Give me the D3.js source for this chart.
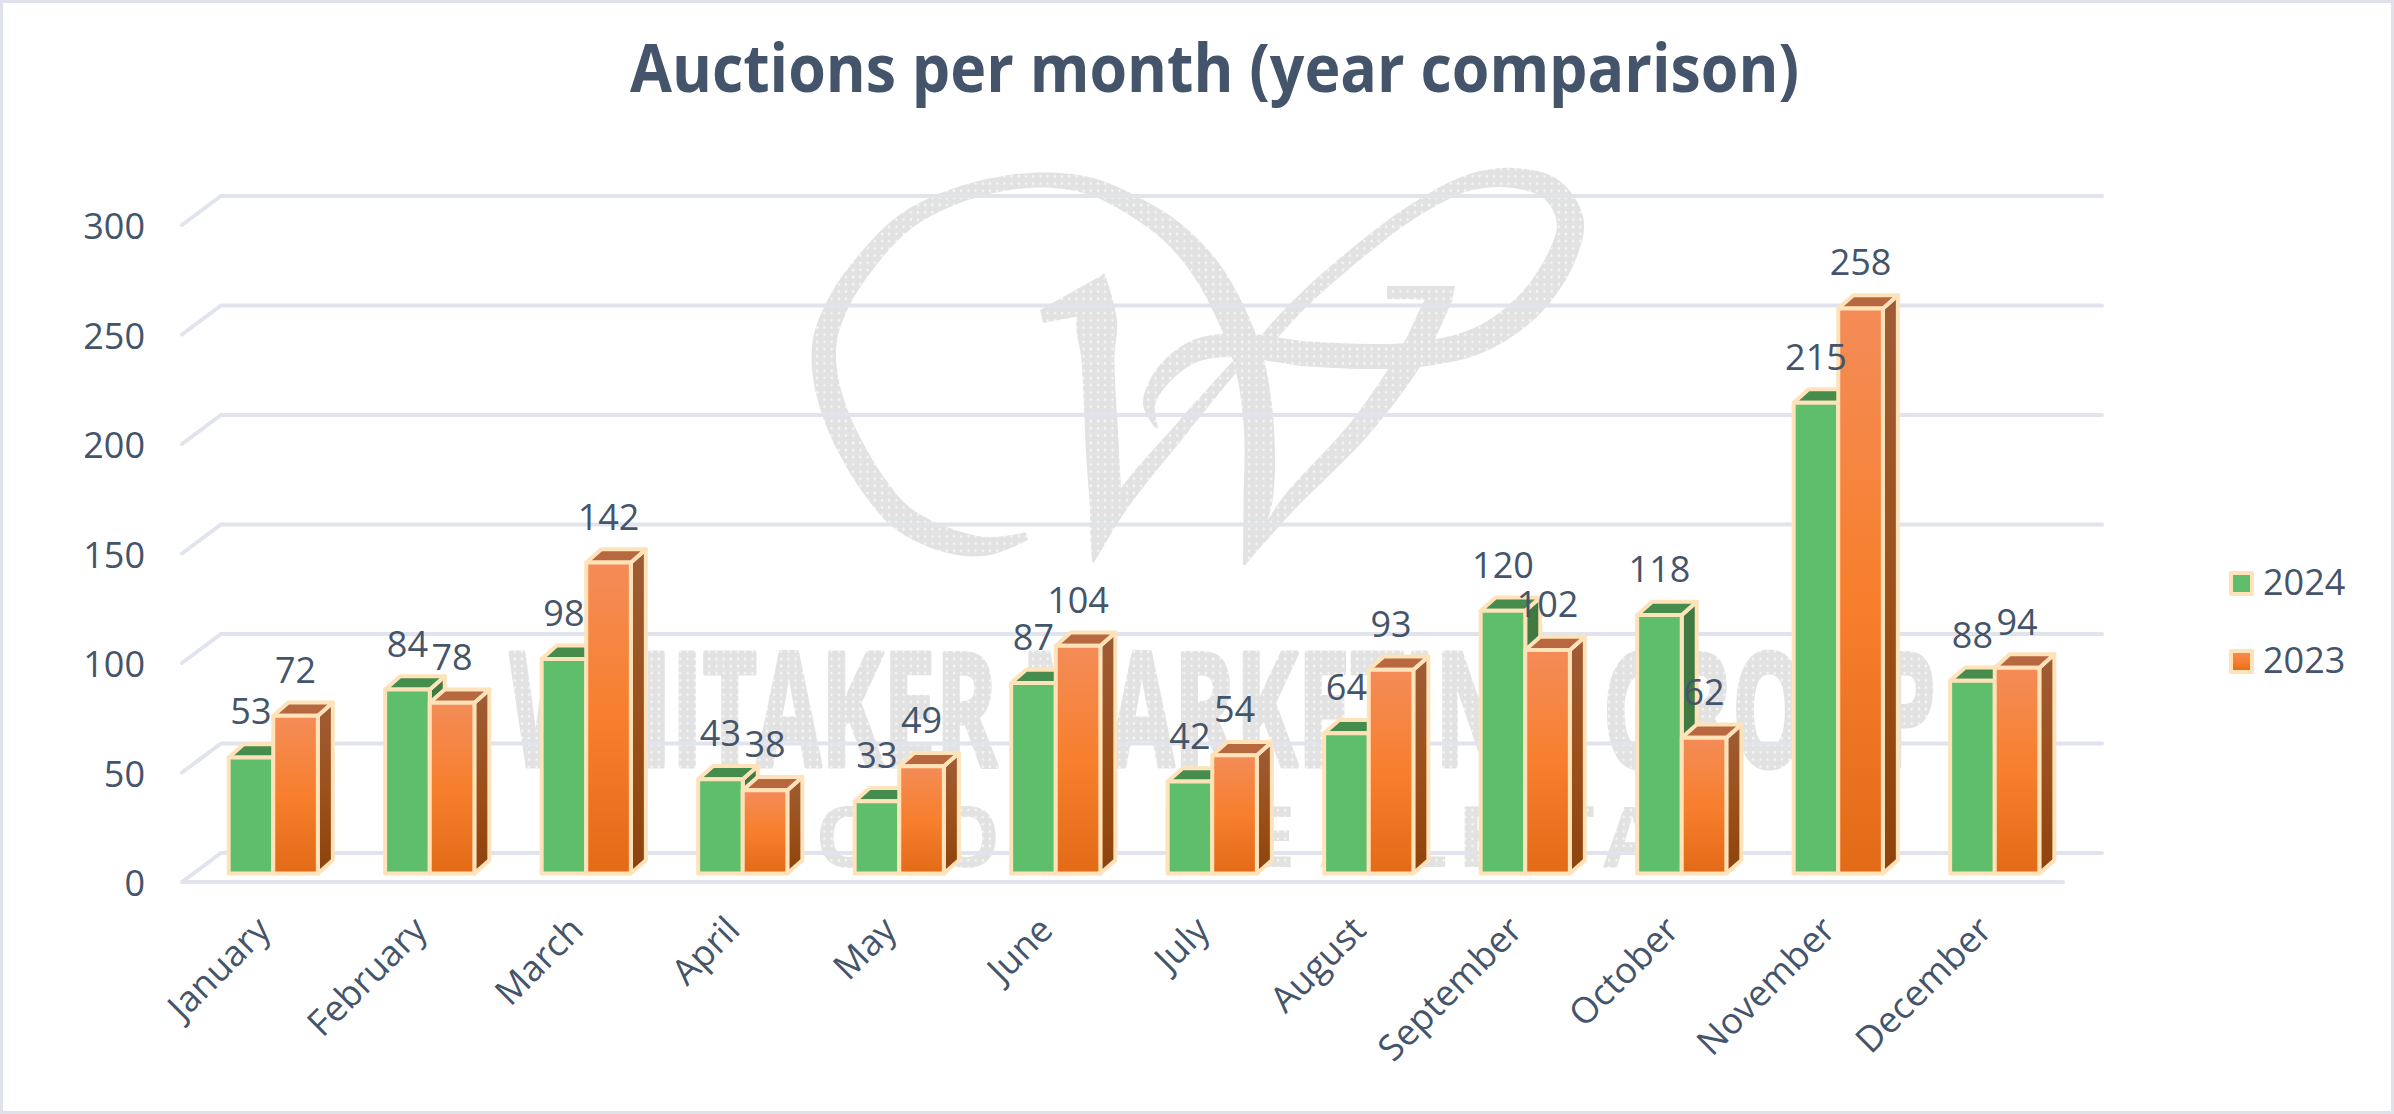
<!DOCTYPE html>
<html>
<head>
<meta charset="utf-8">
<script src="https://cdn.jsdelivr.net/npm/d3@7"></script>
<style>
  html, body { margin: 0; padding: 0; background: #fff; }
  svg { display: block; }
  text { font-family: "Open Sans", sans-serif; fill: #44546a; }
</style>
</head>
<body>
<div id="chart"></div>
<script>
// Monthly auction counts for the two years being compared
const months = ["January", "February", "March", "April", "May", "June", "July", "August", "September", "October", "November", "December"];
const years = ["2024", "2023"];
const values2024 = [53, 84, 98, 43, 33, 87, 42, 64, 120, 118, 215, 88];
const values2023 = [72, 78, 142, 38, 49, 104, 54, 93, 102, 62, 258, 94];
const yTicks = [0, 50, 100, 150, 200, 250, 300];
const titleText = "Auctions per month (year comparison)";

const W = 2394, H = 1114;
const depthX = 15, depthY = 13.3;           // extrusion of each bar
const floorFront = 8.5, floorBack = -20.5;  // floor edges relative to the bar baseline
const wallLeft = 182, wallRight = 2063, wallShift = 39;

const svg = d3.select("#chart").append("svg").attr("width", W).attr("height", H);
const defs = svg.append("defs");

const x = d3.scaleBand().domain(months).range([195, 2073]).paddingInner(0.43).paddingOuter(0.215);
const xSeries = d3.scaleBand().domain(years).range([0, x.bandwidth()]);
const y = d3.scaleLinear().domain([0, 300]).range([873.5, 216.5]);

function gradient(id, stops) {
  const g = defs.append("linearGradient").attr("id", id)
    .attr("x1", 0).attr("y1", 0).attr("x2", 0).attr("y2", 1);
  stops.forEach(([o, c]) => g.append("stop").attr("offset", o).attr("stop-color", c));
}
gradient("orangeFront", [[0, "#f48c58"], [0.5, "#f77f2d"], [1, "#e36a17"]]);
gradient("orangeSide", [[0, "#a05c36"], [0.55, "#9b5019"], [1, "#8e420c"]]);

// Dotted fill of the background emblem
const dots = defs.append("pattern").attr("id", "dotted").attr("patternUnits", "userSpaceOnUse")
  .attr("width", 7.2).attr("height", 7.2);
dots.append("rect").attr("width", 7.2).attr("height", 7.2).attr("fill", "#e2e2e2");
dots.append("circle").attr("cx", 3.6).attr("cy", 3.6).attr("r", 1.3).attr("fill", "#f7f7f7");

// Outer frame
svg.append("rect").attr("x", 1.5).attr("y", 1.5).attr("width", W - 3).attr("height", H - 3)
  .attr("fill", "#fff").attr("stroke", "#dfe2ea").attr("stroke-width", 3);

// Background emblem: calligraphic monogram drawn as variable-width ribbons
const smooth = d3.line().curve(d3.curveCatmullRom.alpha(0.5));
function ribbon(pts) {
  const left = [], right = [];
  pts.forEach((p, i) => {
    const a = pts[Math.max(0, i - 1)], b = pts[Math.min(pts.length - 1, i + 1)];
    const dx = b[0] - a[0], dy = b[1] - a[1], len = Math.hypot(dx, dy) || 1;
    const nx = -dy / len * p[2] / 2, ny = dx / len * p[2] / 2;
    left.push([p[0] + nx, p[1] + ny]);
    right.push([p[0] - nx, p[1] - ny]);
  });
  return smooth(left) + "L" + smooth(right.reverse()).slice(1) + "Z";
}
const emblem = svg.append("g").attr("fill", "url(#dotted)");
const strokes = [
  // large left bowl running into the second stem
  [[1027,536,8],[990,546,18],[953,542,24],[905,520,26],[877,490,26],[842,430,26],[826,380,25],[825,340,24],[840,300,22],[866,262,20],[905,222,18],[953,197,16],[1000,184,15],[1045,180,15],[1090,186,17],[1132,205,20],[1172,232,24],[1205,268,28],[1232,316,30],[1250,366,30],[1259,430,30],[1258,500,29],[1252,535,18],[1244,565,2]],
  // first stem
  [[1104,274,2],[1097,318,40],[1098,360,33],[1103,460,33],[1105,510,30],[1100,533,20],[1093,562,2]],
  // thin diagonal between the stems
  [[1093,562,2],[1120,505,16],[1183,427,14],[1236,365,10]],
  // long diagonal up to the top serif
  [[1244,565,2],[1285,508,16],[1361,427,22],[1412,355,26],[1433,312,26],[1442,294,24]],
  // sweeping loop
  [[1157,428,3],[1149,405,12],[1162,377,18],[1193,352,22],[1234,345,24],[1310,354,25],[1412,355,25],[1479,340,26],[1530,304,28],[1563,254,28],[1570,220,27],[1552,190,24],[1514,178,20],[1468,183,16],[1412,212,14],[1361,250,14],[1310,294,14],[1269,337,14],[1254,358,12]]
];
strokes.forEach(s => emblem.append("path").attr("d", ribbon(s)));
emblem.append("path").attr("d", d3.line()([[1104,274],[1040,310],[1043,323],[1080,316],[1104,320]]));
emblem.append("path").attr("d", d3.line()([[1387,286],[1455,286],[1452,300],[1387,299]]));

// Company name behind the plot
const wordmark = svg.append("g").style("font-family", '"Liberation Sans Narrow", "Liberation Sans", sans-serif').style("font-weight", 700);
wordmark.append("text").attr("x", 510).attr("y", 766)
  .attr("textLength", 1426).attr("lengthAdjust", "spacingAndGlyphs")
  .style("font-size", "158px").style("fill", "url(#dotted)")
  .style("stroke", "url(#dotted)").style("stroke-width", 5).style("stroke-linejoin", "round")
  .text("WHITAKER MARKETING GROUP");

const subLetters = ["O", "O", "R", "E", "A", "L", "E", "S", "T", "A", "T", "E"];
const subPositions = [815, 933, 1158, 1248, 1320, 1400, 1457, 1500, 1546, 1603, 1664, 1690];
svg.append("g").style("font-family", '"Liberation Sans", sans-serif').style("font-weight", 700)
  .selectAll("text").data(subLetters).join("text")
  .attr("x", (d, i) => subPositions[i]).attr("y", 867)
  .style("font-size", "85px").style("fill", "url(#dotted)")
  .text(d => d);

// Chart walls and floor
const grid = svg.append("g").attr("fill", "none").attr("stroke", "#e1e4ec").attr("stroke-width", 4).attr("stroke-linecap", "round");
grid.selectAll("path.wall").data(yTicks).join("path").attr("class", "wall")
  .attr("d", v => d3.line()([
    [wallLeft, y(v) + floorFront],
    [wallLeft + wallShift, y(v) + floorBack],
    [wallRight + wallShift, y(v) + floorBack]
  ]));
grid.append("line").attr("x1", wallLeft).attr("x2", wallRight)
  .attr("y1", y(0) + floorFront).attr("y2", y(0) + floorFront);

// Vertical axis
const yAxis = svg.append("g").attr("transform", `translate(157,${floorFront})`)
  .call(d3.axisLeft(y).tickValues(yTicks).tickSize(0).tickPadding(12));
yAxis.select(".domain").remove();
yAxis.selectAll("text").attr("dy", "0.38em").style("font-size", "36px").style("font-family", '"Open Sans", sans-serif').style("fill", "#44546a");

// Month axis with slanted labels
const xAxis = svg.append("g").attr("transform", "translate(-9,924)")
  .call(d3.axisBottom(x).tickSize(0).tickPadding(0));
xAxis.select(".domain").remove();
xAxis.selectAll("text")
  .attr("y", 0).attr("dy", "0.32em")
  .attr("text-anchor", "end")
  .attr("transform", "rotate(-45)")
  .style("font-size", "36px").style("font-family", '"Open Sans", sans-serif').style("fill", "#44546a");

// Extruded bars: each month draws 2024 first so that 2023 overlaps its side face
const palette = {
  "2024": { front: "#5fbe6b", top: "#468c4d", side: "#3f7a42" },
  "2023": { front: "url(#orangeFront)", top: "#b8683e", side: "url(#orangeSide)" }
};
const rows = months.map((m, i) => ({ month: m, bars: [
  { year: "2024", value: values2024[i] },
  { year: "2023", value: values2023[i] }
]}));
const edge = { stroke: "#fee3ba", "stroke-width": 4, "stroke-linejoin": "round" };
const poly = d3.line();

const groups = svg.append("g").selectAll("g").data(rows).join("g")
  .attr("transform", d => `translate(${x(d.month)},0)`);
groups.each(function (row) {
  const g = d3.select(this);
  row.bars.forEach(b => {
    const l = xSeries(b.year), r = l + xSeries.bandwidth(), t = y(b.value), base = y(0), c = palette[b.year];
    const side = g.append("path").attr("fill", c.side)
      .attr("d", poly([[r, t], [r + depthX, t - depthY], [r + depthX, base - depthY], [r, base]]) + "Z");
    const top = g.append("path").attr("fill", c.top)
      .attr("d", poly([[l, t], [l + depthX, t - depthY], [r + depthX, t - depthY], [r, t]]) + "Z");
    const front = g.append("rect").attr("fill", c.front)
      .attr("x", l).attr("y", t).attr("width", r - l).attr("height", base - t);
    [side, top, front].forEach(s => Object.entries(edge).forEach(([k, v]) => s.attr(k, v)));
  });
});

// Value labels sit above everything else
groups.each(function (row) {
  d3.select(this).selectAll("text").data(row.bars).join("text")
    .attr("x", d => xSeries(d.year) + xSeries.bandwidth() / 2)
    .attr("y", d => y(d.value) - 33)
    .attr("text-anchor", "middle")
    .style("font-size", "36px")
    .text(d => d.value);
});
groups.raise();

// Legend
const legendY = d3.scalePoint().domain(years).range([595, 673]);
const legend = svg.append("g").selectAll("g").data(years).join("g")
  .attr("transform", d => `translate(2231,${legendY(d)})`);
legend.append("rect").attr("x", 0).attr("y", -22).attr("width", 21).attr("height", 21)
  .attr("fill", d => palette[d].front).attr("stroke", edge.stroke).attr("stroke-width", edge["stroke-width"]).attr("stroke-linejoin", "round");
legend.append("text").attr("x", 32).attr("y", 0).style("font-size", "36px").text(d => d);

// Title
svg.append("text").attr("x", 630).attr("y", 92)
  .attr("textLength", 1169).attr("lengthAdjust", "spacingAndGlyphs")
  .style("font-size", "66px").style("font-weight", 700).text(titleText);
</script>
</body>
</html>
